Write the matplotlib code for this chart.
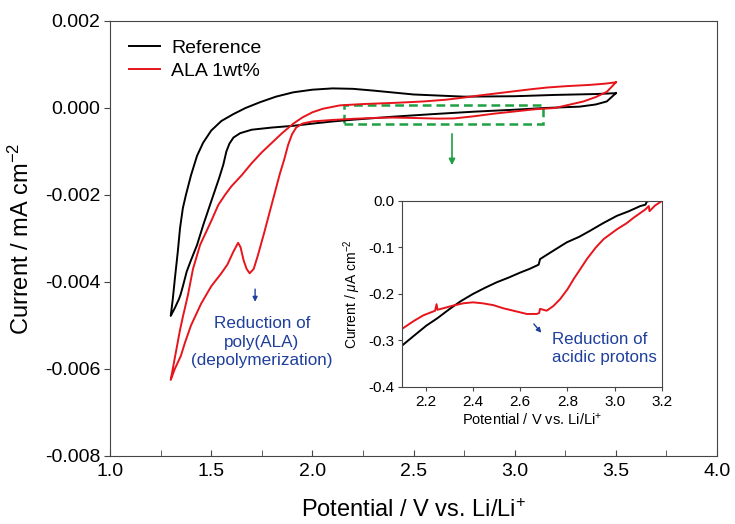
import matplotlib
matplotlib.use("Agg")
import matplotlib.pyplot as plt
from matplotlib.ticker import MultipleLocator, FormatStrFormatter as fsf
from matplotlib.patches import Rectangle

plt.rcParams["font.family"] = ["Liberation Sans", "DejaVu Sans"]
plt.rcParams["mathtext.fontset"] = "custom"
plt.rcParams["mathtext.rm"] = "Liberation Sans"
plt.rcParams["mathtext.it"] = "Liberation Sans:italic"

SPINE = "#454545"
RED = "#e8141b"
BLUE = "#1f3f9c"
GREEN = "#1ea043"

# cyclic voltammograms, mA cm^-2 : cathodic sweep from 3.5 V, then anodic return
ref_v = [3.50, 3.455, 3.40, 3.32, 3.15, 3.00, 2.80, 2.60, 2.40, 2.20, 2.10,
	2.00, 1.906, 1.80, 1.70, 1.643, 1.61, 1.59, 1.575, 1.56, 1.54, 1.494,
	1.46, 1.43, 1.40, 1.379, 1.36, 1.354, 1.348, 1.34, 1.33, 1.32, 1.30,
	1.31, 1.321, 1.335, 1.346, 1.36, 1.375, 1.40, 1.43, 1.46, 1.50, 1.55,
	1.61, 1.67, 1.74, 1.82, 1.906, 2.00, 2.10, 2.20, 2.30, 2.50, 2.75, 3.00,
	3.20, 3.40, 3.50]
ref_i = [0.00034, 0.00015, 0.00008, 0.00003, 0.0, -0.00004, -0.000085,
	-0.00014, -0.0002, -0.00027, -0.00031, -0.00036, -0.00041, -0.00045,
	-0.00050, -0.00058, -0.00068, -0.00082, -0.0010, -0.0013, -0.0016,
	-0.00223, -0.0027, -0.00315, -0.0035, -0.00376, -0.0041, -0.0042,
	-0.0043, -0.0044, -0.0045, -0.0046, -0.00478,
	-0.0044, -0.0039, -0.0033, -0.00276, -0.0023, -0.0020, -0.00155,
	-0.0011, -0.0008, -0.00052, -0.0003, -0.00014, 0.0, 0.00013, 0.00026,
	0.00036, 0.00042, 0.00045, 0.00044, 0.00040, 0.00031, 0.00026, 0.00027,
	0.00030, 0.00032, 0.00034]

ala_v = [3.50, 3.455, 3.40, 3.34, 3.20, 3.10, 3.00, 2.90, 2.80, 2.70, 2.62,
	2.50, 2.40, 2.30, 2.20, 2.10, 2.00, 1.95, 1.92, 1.90, 1.88, 1.86, 1.84,
	1.80, 1.76, 1.73, 1.71, 1.69, 1.675, 1.66, 1.645, 1.633, 1.61, 1.58,
	1.55, 1.50, 1.45, 1.40, 1.37, 1.35, 1.32, 1.30,
	1.31, 1.33, 1.346, 1.36, 1.385, 1.41, 1.445, 1.50, 1.535, 1.568, 1.60,
	1.65, 1.70, 1.75, 1.80, 1.85, 1.906, 1.95, 2.00, 2.05, 2.137, 2.25,
	2.42, 2.55, 2.66, 2.75, 2.83, 2.92, 2.99, 3.08, 3.16, 3.25, 3.37, 3.45,
	3.50]
ala_i = [0.00059, 0.00037, 0.00025, 0.00015, 0.0, -0.00003, -0.00008,
	-0.00013, -0.00019, -0.00024, -0.000245, -0.00023, -0.00022, -0.00023,
	-0.00025, -0.000275, -0.00031, -0.00036, -0.00045, -0.0006, -0.00085,
	-0.0012, -0.0015, -0.0022, -0.0029, -0.0034, -0.0037, -0.0038, -0.0037,
	-0.0035, -0.0032, -0.0031, -0.0033, -0.0036, -0.0038, -0.0041, -0.0045,
	-0.0050, -0.0054, -0.0057, -0.0060, -0.00625,
	-0.0060, -0.0055, -0.0051, -0.0048, -0.0043, -0.0037, -0.00315,
	-0.0026, -0.00223, -0.0020, -0.0018, -0.00155, -0.00127, -0.00102,
	-0.0008, -0.00058, -0.00036, -0.00022, -0.0001, -0.00002, 0.00006,
	0.00009, 0.00012, 0.00015, 0.00019, 0.00024, 0.00029, 0.00034, 0.00038,
	0.00043, 0.00047, 0.0005, 0.00053, 0.00056, 0.00059]

# cathodic sweep between 2.1 and 3.2 V, uA cm^-2
ins_ref_v = [2.10, 2.15, 2.203, 2.25, 2.302, 2.35, 2.40, 2.45, 2.50, 2.55,
	2.60, 2.64, 2.678, 2.684, 2.74, 2.797, 2.85, 2.896, 2.95, 3.009, 3.06,
	3.108, 3.13, 3.135, 3.144]
ins_ref_i = [-0.311, -0.290, -0.268, -0.252, -0.232, -0.215, -0.200,
	-0.187, -0.175, -0.165, -0.154, -0.146, -0.137, -0.125, -0.107, -0.089,
	-0.077, -0.064, -0.048, -0.032, -0.022, -0.011, -0.008, -0.002, 0.0]
ins_ala_v = [2.10, 2.15, 2.19, 2.24, 2.246, 2.25, 2.28, 2.316, 2.36, 2.40,
	2.44, 2.486, 2.53, 2.571, 2.628, 2.67, 2.68, 2.684, 2.712, 2.74, 2.769,
	2.80, 2.826, 2.855, 2.882, 2.92, 2.953, 3.009, 3.05, 3.08, 3.13, 3.144,
	3.147, 3.17, 3.20]
ins_ala_i = [-0.275, -0.258, -0.246, -0.236, -0.222, -0.234, -0.230,
	-0.225, -0.220, -0.218, -0.220, -0.224, -0.231, -0.236, -0.243, -0.243,
	-0.241, -0.232, -0.236, -0.226, -0.211, -0.190, -0.168, -0.146, -0.125,
	-0.100, -0.082, -0.061, -0.048, -0.036, -0.018, -0.011, -0.022, -0.010,
	0.0]

fig = plt.figure(figsize = (7.35, 5.24), dpi = 100)
ax = fig.add_axes([0.1497, 0.1298, 0.8259, 0.8302])
ax.plot(ref_v, ref_i, color = "black", lw = 1.4, label = "Reference")
ax.plot(ala_v, ala_i, color = RED, lw = 1.4, label = "ALA 1wt%")
ax.set_xlim(1.0, 4.0)
ax.set_ylim(-0.008, 0.002)
ax.xaxis.set_major_locator(MultipleLocator(0.5))
ax.xaxis.set_minor_locator(MultipleLocator(0.25))
ax.xaxis.set_major_formatter(fsf("%.1f"))
ax.yaxis.set_major_locator(MultipleLocator(0.002))
ax.yaxis.set_major_formatter(fsf("%.3f"))
ax.tick_params(axis = "x", which = "both", direction = "in", length = 4,
	color = SPINE, labelsize = 14, pad = 5)
ax.tick_params(axis = "y", direction = "out", length = 4, color = SPINE,
	labelsize = 14, pad = 3)
for s in ax.spines.values():
	s.set_color(SPINE)
ax.set_xlabel(r"Potential / V vs. Li/Li$^{+}$", fontsize = 17, labelpad = 14)
ax.set_ylabel(r"Current / mA cm$^{-2}$", fontsize = 17, labelpad = 8)
ax.legend(loc = "upper left", frameon = False, fontsize = 14,
	handlelength = 1.6, handletextpad = 0.6, labelspacing = 0.25,
	borderaxespad = 0.55)

# region blown up in the inset
ax.add_patch(Rectangle((2.157, -0.00037), 0.983, 0.00044, fill = False,
	edgecolor = GREEN, lw = 1.8, ls = (0, (3.5, 2))))
ax.annotate("", xy = (2.69, -0.00138), xytext = (2.69, -0.00053),
	arrowprops = dict(arrowstyle = "-|>", color = GREEN, lw = 1.2,
	mutation_scale = 9))
ax.annotate("", xy = (1.717, -0.00452), xytext = (1.717, -0.0041),
	arrowprops = dict(arrowstyle = "-|>", color = BLUE, lw = 1.0,
	mutation_scale = 7))
ax.text(1.751, -0.00538, "Reduction of\npoly(ALA)\n(depolymerization)",
	color = BLUE, fontsize = 12.3, ha = "center", va = "center",
	linespacing = 1.3)

ins = fig.add_axes([0.547, 0.2615, 0.3537, 0.355])
ins.plot(ins_ref_v, ins_ref_i, color = "black", lw = 1.4)
ins.plot(ins_ala_v, ins_ala_i, color = RED, lw = 1.4)
ins.set_xlim(2.1, 3.2)
ins.set_ylim(-0.4, 0.0)
ins.xaxis.set_major_locator(MultipleLocator(0.2))
ins.xaxis.set_major_formatter(fsf("%.1f"))
ins.yaxis.set_major_locator(MultipleLocator(0.1))
ins.yaxis.set_major_formatter(fsf("%.1f"))
ins.tick_params(direction = "out", length = 3, color = SPINE, labelsize = 11,
	pad = 2.5)
for s in ins.spines.values():
	s.set_color(SPINE)
ins.set_xlabel(r"Potential / V vs. Li/Li$^{+}$", fontsize = 10.5,
	labelpad = 2)
ins.set_ylabel(r"Current / $\mu$A cm$^{-2}$", fontsize = 10, labelpad = 4)
ins.annotate("", xy = (2.697, -0.288), xytext = (2.65, -0.260),
	arrowprops = dict(arrowstyle = "-|>", color = BLUE, lw = 1.0,
	mutation_scale = 7))
ins.text(2.735, -0.317, "Reduction of\nacidic protons", color = BLUE,
	fontsize = 12.2, ha = "left", va = "center", linespacing = 1.3)

plt.savefig("out.png", dpi = 100)
